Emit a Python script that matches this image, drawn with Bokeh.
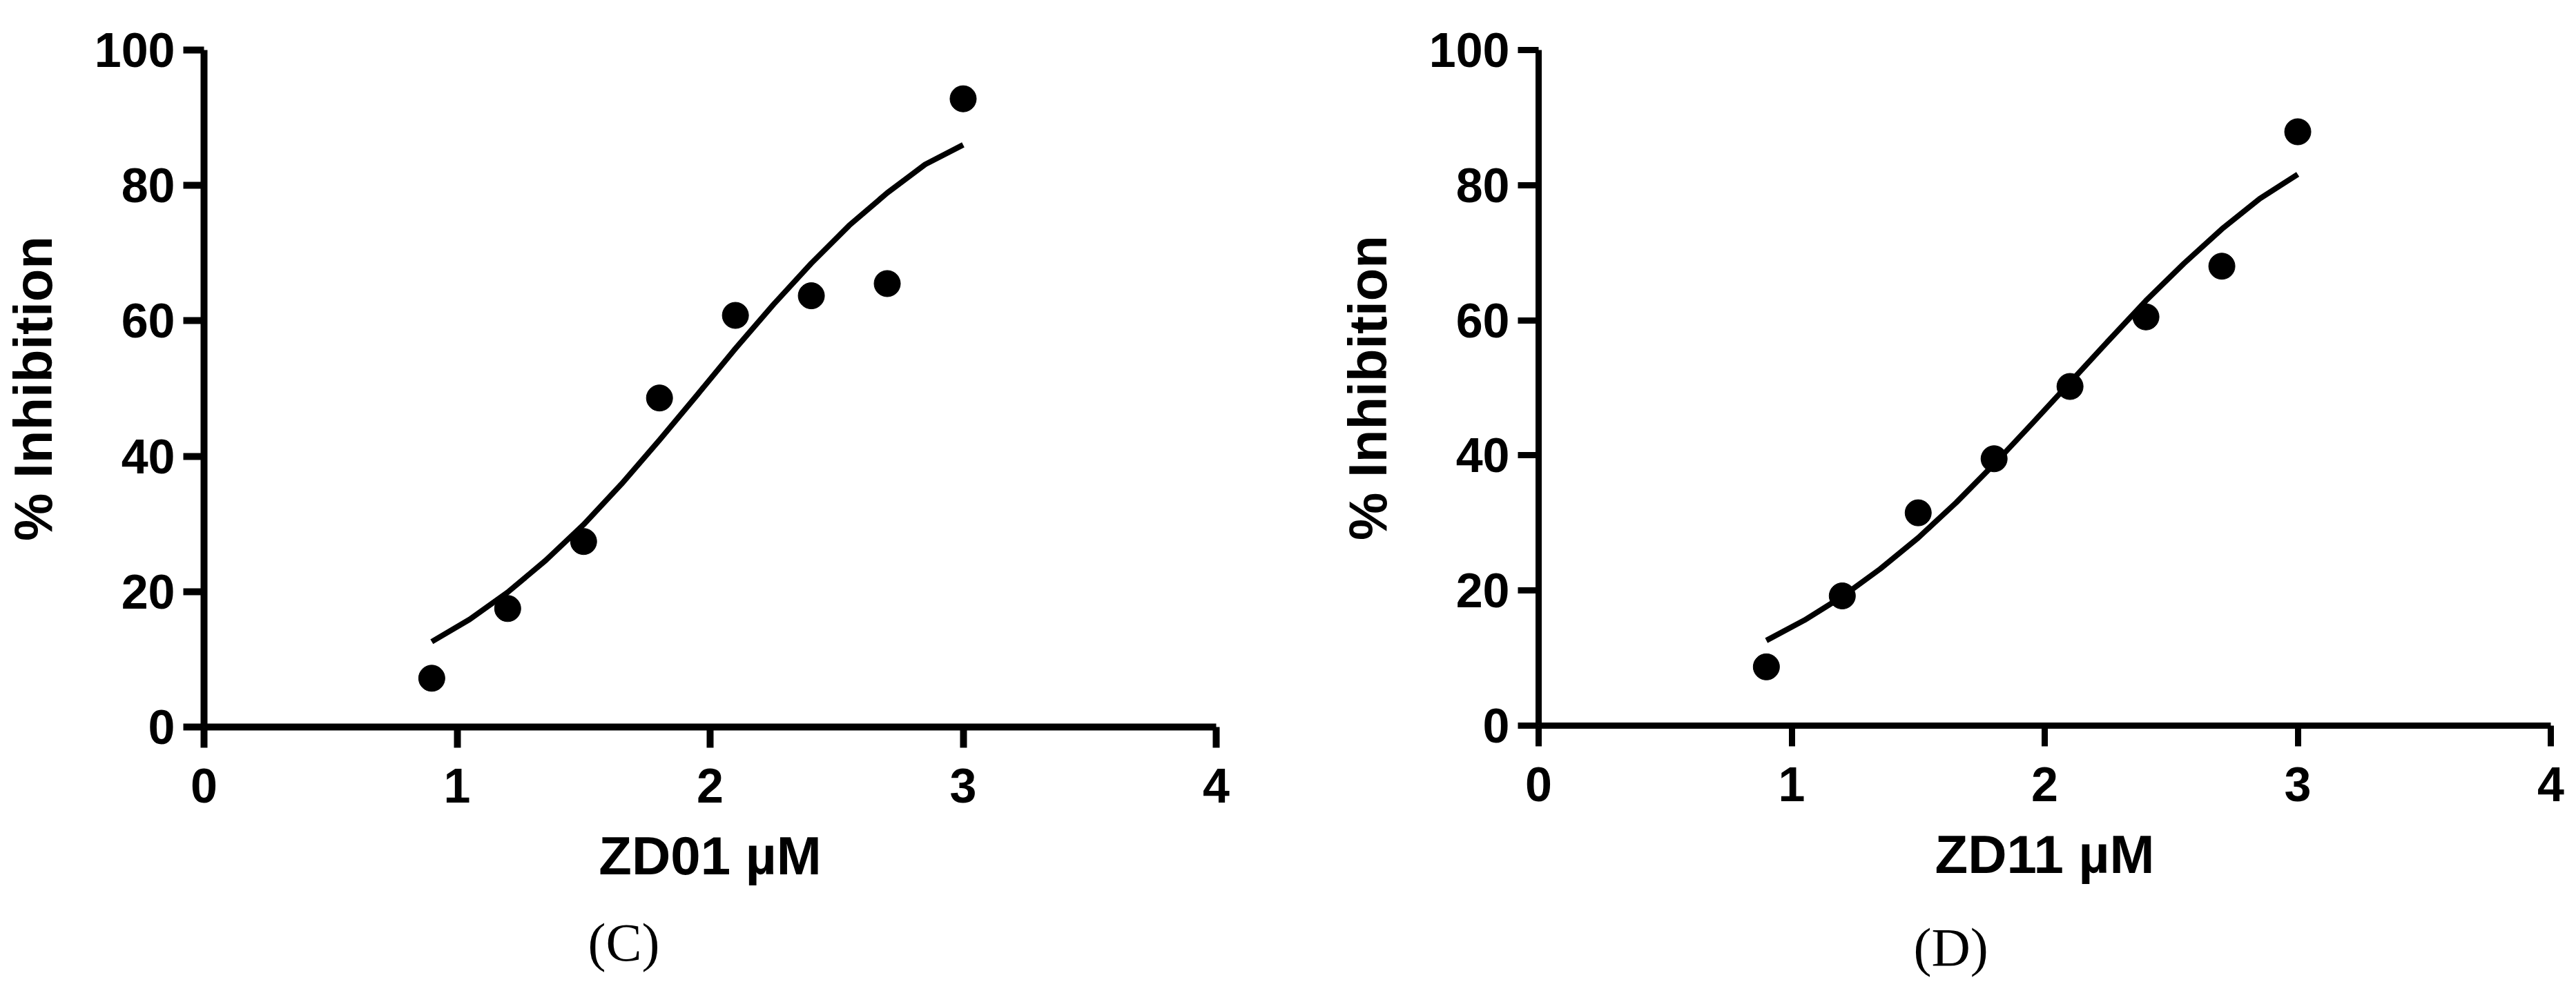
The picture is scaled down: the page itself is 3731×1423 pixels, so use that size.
from bokeh.plotting import figure
from bokeh.models import Range1d, Title, FixedTicker
from bokeh.layouts import row
from bokeh.embed import file_html
from bokeh.resources import INLINE

# ---- data ----
conc = [0.9, 1.2, 1.5, 1.8, 2.1, 2.4, 2.7, 3.0]
zd01_inhibition = [7.2, 17.5, 27.4, 48.6, 60.8, 63.7, 65.5, 92.8]
zd11_inhibition = [8.7, 19.2, 31.5, 39.5, 50.2, 60.5, 68.0, 87.9]

curve_x = [0.90, 1.05, 1.20, 1.35, 1.50, 1.65, 1.80, 1.95, 2.10, 2.25, 2.40, 2.55, 2.70, 2.85, 3.00]
zd01_curve = [12.6, 15.9, 19.9, 24.6, 29.9, 35.9, 42.4, 49.1, 55.9, 62.4, 68.5, 74.1, 78.9, 83.1, 86.0]
zd11_curve = [12.6, 15.6, 19.1, 23.2, 27.8, 33.0, 38.7, 44.7, 50.8, 56.9, 62.9, 68.4, 73.5, 78.0, 81.6]

x_ticks = [0, 1, 2, 3, 4]
y_ticks = [0, 20, 40, 60, 80, 100]
y_title = "% Inhibition"
x_titles = ["ZD01 µM", "ZD11 µM"]
panel_tags = ["(C)", "(D)"]

SANS = "Liberation Sans"
SERIF = "Liberation Serif"


def make_panel(xs, ys, cx, cy, xtitle, tag, border, axis_w, tag_offset, tag_standoff):
    left, right, top, bottom, fh = border
    p = figure(
        frame_width=1466, frame_height=fh,
        min_border_left=left, min_border_right=right,
        min_border_top=top, min_border_bottom=bottom,
        x_range=Range1d(0, 4), y_range=Range1d(0, 100),
        output_backend="svg", toolbar_location=None,
        background_fill_color="white", border_fill_color="white",
    )
    p.outline_line_color = None
    p.grid.visible = False

    for ax in (p.xaxis[0], p.yaxis[0]):
        ax.axis_line_width = axis_w
        ax.axis_line_color = "black"
        ax.major_tick_line_width = axis_w
        ax.major_tick_line_color = "black"
        ax.major_tick_in = 0
        ax.major_tick_out = 30
        ax.minor_tick_line_color = None
        ax.major_label_text_font = SANS
        ax.major_label_text_font_style = "bold"
        ax.major_label_text_font_size = "70px"
        ax.major_label_text_color = "black"
        ax.axis_label_text_font = SANS
        ax.axis_label_text_font_style = "bold"
        ax.axis_label_text_font_size = "78px"
        ax.axis_label_text_color = "black"

    p.xaxis.ticker = FixedTicker(ticks=x_ticks)
    p.yaxis.ticker = FixedTicker(ticks=y_ticks)
    p.xaxis.axis_label = xtitle
    p.yaxis.axis_label = y_title
    p.xaxis.major_label_standoff = 30
    p.yaxis.major_label_standoff = 12
    p.yaxis.axis_label_standoff = 42
    p.xaxis.axis_label_standoff = 30

    p.line(cx, cy, line_color="black", line_width=8, line_join="round")
    p.scatter(xs, ys, size=38, fill_color="black", line_color="black")

    p.add_layout(Title(
        text=tag, align="left", offset=tag_offset, standoff=tag_standoff,
        text_font=SERIF, text_font_size="78px", text_font_style="normal",
        text_color="black",
    ), "below")
    return p


p1 = make_panel(conc, zd01_inhibition, curve_x, zd01_curve, x_titles[0], panel_tags[0],
                (289, 102, 72, 354, 981), 10, 556, 66)
p2 = make_panel(conc, zd11_inhibition, curve_x, zd11_curve, x_titles[1], panel_tags[1],
                (365, 27, 42, 386, 979), 9, 543, 84)

layout = row(p1, p2)
open("out.html", "w").write(file_html(layout, INLINE))
